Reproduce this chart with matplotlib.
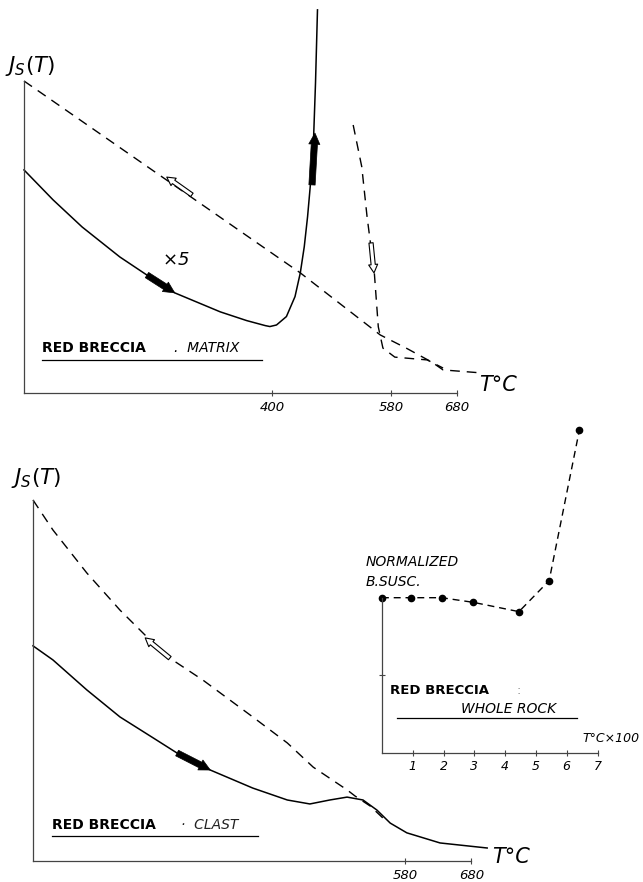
import numpy as np
import matplotlib
matplotlib.use("Agg")
import matplotlib.pyplot as plt
from matplotlib.lines import Line2D

plt.rcParams['font.family'] = ['DejaVu Sans']
plt.rcParams['mathtext.fontset'] = 'dejavusans'

# ---------------- data ----------------
# top panel: red breccia matrix (T in degC, Js in arbitrary units, cooling start = 100)
matrix_heat_T = [25, 69, 113, 170, 211, 253, 322, 362, 390, 397, 407, 422, 435, 443, 449, 454, 458, 463, 466, 469]
matrix_heat_J = [71.5, 61.9, 53.2, 43.6, 37.8, 32.1, 26.0, 23.2, 21.6, 21.3, 21.8, 24.5, 30.9, 38.5, 46.9, 56.5, 66.1, 81.1, 99.3, 122.8]
matrix_cool_T = [25, 443, 564, 604, 642, 659, 719]
matrix_cool_J = [100, 38.5, 18.6, 14.3, 9.9, 7.4, 6.4]
matrix_high_T = [523, 536, 544, 555, 561, 568, 586, 635, 659]
matrix_high_J = [85.9, 72.5, 56.5, 38.5, 21.2, 14.4, 11.5, 10.6, 8.0]
matrix_ticks = [400, 580, 680]

# bottom panel: red breccia clast
clast_heat_T = [20, 50, 101, 151, 201, 237, 287, 351, 403, 437, 467, 493, 517, 538, 558, 583, 633, 704]
clast_heat_J = [59.6, 55.7, 47.4, 39.9, 34.1, 29.9, 25.2, 20.2, 16.9, 15.8, 16.9, 17.7, 16.9, 14.1, 10.5, 7.8, 5.0, 3.6]
clast_cool_T = [20, 50, 101, 151, 192, 226, 276, 351, 403, 442, 493, 505, 528, 547]
clast_cool_J = [100, 91.7, 79.8, 69.5, 62.0, 56.2, 50.1, 39.9, 32.7, 26.0, 19.7, 18.0, 15.2, 11.9]
clast_ticks = [580, 680]

# inset: normalized bulk susceptibility, whole rock (T in degC x 100)
rock_T = [0, 0.93, 1.94, 2.97, 4.45, 5.43, 6.41]
rock_susc = [1.0, 1.0, 1.0, 0.97, 0.91, 1.11, 2.08]
rock_ticks = [1, 2, 3, 4, 5, 6, 7]

# direction arrows (tail T, tail J, tip T, tip J)
matrix_arrows_solid = [(211, 37.8, 253, 32.1), (460.7, 66.7, 465.2, 83.3)]
matrix_arrows_open = [(279, 63.5, 241, 69.2), (550, 48.1, 554.5, 38.5)]
clast_arrows_solid = [(237, 29.9, 287, 25.2)]
clast_arrows_open = [(226, 56.2, 189, 61.8)]

W, H = 643, 882
fig = plt.figure(figsize=(W / 100, H / 100), dpi=100)
axis_col = '#444444'


def px_text(x, y, s, **kw):
    fig.text(x / W, 1 - y / H, s, va='center', ha=kw.pop('ha', 'left'), **kw)


def px_line(x0, x1, y, lw=0.9):
    fig.add_artist(Line2D([x0 / W, x1 / W], [1 - y / H, 1 - y / H], color='k', lw=lw))


def style_axes(ax, xlo, xhi, yhi, ticks, labels):
    ax.patch.set_alpha(0)
    for s in ['top', 'right']:
        ax.spines[s].set_visible(False)
    for s in ['left', 'bottom']:
        ax.spines[s].set_color(axis_col)
        ax.spines[s].set_linewidth(0.9)
    ax.spines['bottom'].set_bounds(xlo, xhi)
    ax.spines['left'].set_bounds(0, yhi)
    ax.set_yticks([])
    ax.set_xticks(ticks)
    ax.set_xticklabels(labels, fontstyle='italic', fontsize=9.5)
    ax.tick_params(axis='x', direction='inout', length=5, width=0.8, color=axis_col, pad=3)


def arrows(ax, lst, open_head):
    for t0, j0, t1, j1 in lst:
        if open_head:
            props = dict(arrowstyle='simple,head_length=0.6,head_width=0.65,tail_width=0.3',
                         fc='white', ec='k', lw=0.8, mutation_scale=10, shrinkA=0, shrinkB=0)
        else:
            props = dict(arrowstyle='simple,head_length=0.8,head_width=0.8,tail_width=0.45',
                         fc='k', ec='k', lw=0.5, mutation_scale=10, shrinkA=0, shrinkB=0)
        ax.annotate('', xy=(t1, j1), xytext=(t0, j0), arrowprops=props, zorder=5)


dash = (0, (7, 5))

# ---------------- top panel ----------------
ax1 = fig.add_axes([24 / W, 1 - 393 / H, 496 / W, 393 / H])
ax1.set_xlim(25, 25 + 496 / 0.661)
ax1.set_ylim(0, 393 / 3.12)
style_axes(ax1, 25, 680, 100, matrix_ticks, [str(t) for t in matrix_ticks])
ax1.plot(matrix_heat_T, matrix_heat_J, color='k', lw=1.1, clip_on=False)
ax1.plot(matrix_cool_T, matrix_cool_J, color='k', lw=1.0, linestyle=dash, clip_on=False)
ax1.plot(matrix_high_T, matrix_high_J, color='k', lw=1.0, linestyle=dash, clip_on=False)
arrows(ax1, matrix_arrows_solid, False)
arrows(ax1, matrix_arrows_open, True)

px_text(5, 66, r'$J_S(T)$', fontsize=15.5)
px_text(162, 260, r'$\times$5', fontsize=13, fontstyle='italic')
px_text(42, 348, 'RED BRECCIA', fontsize=10, fontweight='bold')
px_text(174, 348, '.  MATRIX', fontsize=10, fontstyle='italic')
px_line(42, 262, 360)
px_text(479, 385, 'T°C', fontsize=15, fontstyle='italic')

# ---------------- bottom panel ----------------
ax2 = fig.add_axes([33 / W, 1 - 861 / H, 497 / W, 421 / H])
ax2.set_xlim(20, 20 + 497 / 0.664)
ax2.set_ylim(0, 421 / 3.61)
style_axes(ax2, 20, 680, 100, clast_ticks, [str(t) for t in clast_ticks])
ax2.plot(clast_heat_T, clast_heat_J, color='k', lw=1.1, clip_on=False)
ax2.plot(clast_cool_T, clast_cool_J, color='k', lw=1.0, linestyle=dash, clip_on=False)
arrows(ax2, clast_arrows_solid, False)
arrows(ax2, clast_arrows_open, True)

px_text(11, 478, r'$J_S(T)$', fontsize=15.5)
px_text(52, 825, 'RED BRECCIA', fontsize=10, fontweight='bold')
px_text(181, 825, '·  CLAST', fontsize=10, fontstyle='italic', color='#222222')
px_line(52, 258, 836)
px_text(492, 857, 'T°C', fontsize=15, fontstyle='italic')

# ---------------- inset: whole rock susceptibility ----------------
ax3 = fig.add_axes([381.9 / W, 1 - 752.7 / H, (W - 381.9) / W, 332.7 / H])
ax3.set_xlim(0, (W - 381.9) / 30.8)
ax3.set_ylim(0, 332.7 / 155)
style_axes(ax3, 0, 7, 1.0, rock_ticks, [str(t) for t in rock_ticks])
ax3.set_yticks([0.5])
ax3.set_yticklabels([])
ax3.tick_params(axis='y', direction='inout', length=5, width=0.8, color=axis_col)
ax3.tick_params(axis='x', labelsize=9)
ax3.plot(rock_T, rock_susc, color='k', lw=1.0, linestyle=(0, (5, 3.5)),
         marker='o', markersize=4.5, clip_on=False)

px_text(366, 562, 'NORMALIZED', fontsize=10, fontstyle='italic')
px_text(366, 582, 'B.SUSC.', fontsize=10, fontstyle='italic')
px_text(390, 690, 'RED BRECCIA', fontsize=9.5, fontweight='bold')
px_text(516, 690, ':', fontsize=9, color='#888888')
px_text(461, 709, 'WHOLE ROCK', fontsize=10, fontstyle='italic')
px_line(397, 577, 718)
px_text(582, 739, 'T°C×100', fontsize=9, fontstyle='italic')

fig.savefig('out.png', dpi=100, facecolor='white')
